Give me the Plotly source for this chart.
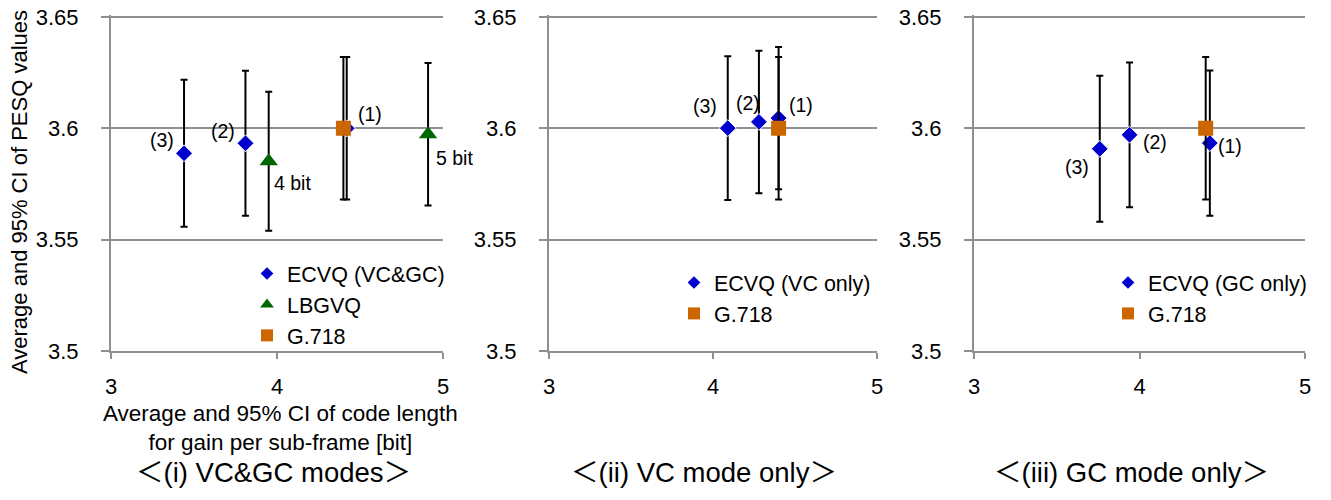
import plotly.graph_objects as go

# ---------------- data ----------------
point_labels = ["(1)", "(2)", "(3)"]

# (i) VC&GC modes
ecvq_both_x = [4.42, 3.81, 3.44]
ecvq_both_y = [3.6000, 3.5933, 3.5888]
ecvq_both_ci = [0.0320, 0.0326, 0.0330]

lbgvq_x = [3.95, 4.91]
lbgvq_y = [3.5852, 3.5974]
lbgvq_ci = [0.0312, 0.0320]
lbgvq_labels = ["4 bit", "5 bit"]

# (ii) VC mode only
ecvq_vc_x = [4.40, 4.28, 4.09]
ecvq_vc_y = [3.6046, 3.6029, 3.6001]
ecvq_vc_ci = [0.0319, 0.0320, 0.0323]

# (iii) GC mode only
ecvq_gc_x = [4.425, 3.94, 3.76]
ecvq_gc_y = [3.5934, 3.5971, 3.5908]
ecvq_gc_ci = [0.0326, 0.0325, 0.0328]

# G.718 reference (same in every panel)
g718_x = [4.40]
g718_y = [3.600]
g718_ci = [0.032]

x_ticks = [3, 4, 5]
y_ticks = [3.5, 3.55, 3.6, 3.65]
y_ticktext = ["3.5", "3.55", "3.6", "3.65"]

panel_titles = ["＜(i) VC&GC modes＞", "＜(ii) VC mode only＞", "＜(iii) GC mode only＞"]
x_title = "Average and 95% CI of code length<br>for gain per sub-frame [bit]"
y_title = "Average and 95% CI of PESQ values"

# ---------------- style ----------------
FONT = "Liberation Sans, Arial, Noto Sans CJK JP, sans-serif"
BLUE = "#0000CC"
GREEN = "#006600"
ORANGE = "#CC6600"
GRID = "#8f8f8f"
W, H = 1331, 500
OFF = 8  # page body margin


def px(xp):
    return (xp - OFF) / W


def py(yp):
    return 1 - (yp - OFF) / H


x_domains = [[px(111), px(443)], [px(549), px(877)], [px(974), px(1305)]]
y_domain = [py(351), py(14.8)]

fig = go.Figure()


def err(ci):
    return dict(type="data", array=ci, visible=True, color="black",
                thickness=2, width=3.5)


panels = [
    ("ECVQ (VC&GC)", ecvq_both_x, ecvq_both_y, ecvq_both_ci),
    ("ECVQ (VC only)", ecvq_vc_x, ecvq_vc_y, ecvq_vc_ci),
    ("ECVQ (GC only)", ecvq_gc_x, ecvq_gc_y, ecvq_gc_ci),
]

legend_names = ["legend", "legend2", "legend3"]

for i, (name, xs, ys, ci) in enumerate(panels):
    xa = "x" if i == 0 else f"x{i+1}"
    ya = "y" if i == 0 else f"y{i+1}"
    fig.add_trace(go.Scatter(
        x=xs, y=ys, mode="markers", name=name, xaxis=xa, yaxis=ya,
        legend=legend_names[i],
        marker=dict(symbol="diamond", size=13, color=BLUE,
                    line=dict(color="white", width=1)),
        error_y=err(ci)))
    if i == 0:
        fig.add_trace(go.Scatter(
            x=lbgvq_x, y=lbgvq_y, mode="markers", name="LBGVQ",
            xaxis=xa, yaxis=ya, legend=legend_names[i],
            marker=dict(symbol="triangle-up", size=16, color=GREEN),
            error_y=err(lbgvq_ci)))
    fig.add_trace(go.Scatter(
        x=g718_x, y=g718_y, mode="markers", name="G.718",
        xaxis=xa, yaxis=ya, legend=legend_names[i],
        marker=dict(symbol="square", size=15, color=ORANGE),
        error_y=err(g718_ci)))

# point labels (pixel offsets from the marker)
label_offsets = [
    [(23, -14), (-22, -12), (-22, -13)],
    [(22, -13), (-11, -19), (-23, -22)],
    [(20, 3), (25, 7), (-23, 18)],
]
annotations = []
for i, (name, xs, ys, ci) in enumerate(panels):
    xr = "x" if i == 0 else f"x{i+1}"
    yr = "y" if i == 0 else f"y{i+1}"
    for j, lab in enumerate(point_labels):
        dx, dy = label_offsets[i][j]
        annotations.append(dict(x=xs[j], y=ys[j], xref=xr, yref=yr, text=lab,
                                showarrow=False, xshift=dx, yshift=-dy,
                                xanchor="center", yanchor="middle",
                                font=dict(size=19.5, color="black", family=FONT)))
lbg_offsets = [(24, 22), (26, 24)]
for j, lab in enumerate(lbgvq_labels):
    dx, dy = lbg_offsets[j]
    annotations.append(dict(x=lbgvq_x[j], y=lbgvq_y[j], xref="x", yref="y", text=lab,
                            showarrow=False, xshift=dx, yshift=-dy,
                            xanchor="center", yanchor="middle",
                            font=dict(size=19.5, color="black", family=FONT)))

# axis titles and panel captions
annotations.append(dict(x=px(19), y=py(192), xref="paper", yref="paper",
                        text=y_title, textangle=-90, showarrow=False,
                        xanchor="center", yanchor="middle",
                        font=dict(size=22, color="black", family=FONT)))
annotations.append(dict(x=px(280), y=py(427.5), xref="paper", yref="paper",
                        text=x_title, showarrow=False,
                        xanchor="center", yanchor="middle",
                        font=dict(size=22.5, color="black", family=FONT)))
caption_x = [273, 704, 1131]
for i, t in enumerate(panel_titles):
    annotations.append(dict(x=px(caption_x[i]), y=py(472), xref="paper", yref="paper",
                            text=t, showarrow=False,
                            xanchor="center", yanchor="middle",
                            font=dict(size=27.5, color="black", family=FONT)))

axis_common_x = dict(range=[3, 5], tickvals=x_ticks, showgrid=False, zeroline=False,
                     showline=True, linecolor=GRID, linewidth=2,
                     ticks="outside", ticklen=6, tickwidth=2, tickcolor=GRID,
                     tickfont=dict(size=22, color="black", family=FONT),
                     ticklabelstandoff=9, automargin=False,
                     ticklabeloverflow="allow")
axis_common_y = dict(range=[3.5, 3.651], tickvals=y_ticks, ticktext=y_ticktext,
                     showgrid=True, gridcolor=GRID, gridwidth=2, zeroline=False,
                     showline=True, linecolor=GRID, linewidth=2,
                     ticks="outside", ticklen=8, tickwidth=2, tickcolor=GRID,
                     tickfont=dict(size=22, color="black", family=FONT),
                     ticklabelstandoff=18, domain=y_domain, automargin=False,
                     ticklabeloverflow="allow")

layout = dict(width=W, height=H, margin=dict(l=0, r=0, t=0, b=0, autoexpand=False),
              paper_bgcolor="white", plot_bgcolor="white",
              font=dict(family=FONT, color="black"),
              annotations=annotations, showlegend=True)

for i in range(3):
    sx = "" if i == 0 else str(i + 1)
    layout[f"xaxis{sx}"] = dict(axis_common_x, domain=x_domains[i],
                                anchor="y" if i == 0 else f"y{i+1}")
    layout[f"yaxis{sx}"] = dict(axis_common_y, anchor="x" if i == 0 else f"x{i+1}")

leg_common = dict(xanchor="left", yanchor="top", bgcolor="rgba(0,0,0,0)",
                  borderwidth=0, font=dict(size=21.5, color="black", family=FONT),
                  itemsizing="constant", tracegroupgap=0)
layout["legend"] = dict(leg_common, x=239 / W, y=1 - 245 / H)
layout["legend2"] = dict(leg_common, x=666 / W, y=1 - 254 / H)
layout["legend3"] = dict(leg_common, x=1100 / W, y=1 - 254 / H)

fig.update_layout(**layout)
fig.write_html("out.html")
